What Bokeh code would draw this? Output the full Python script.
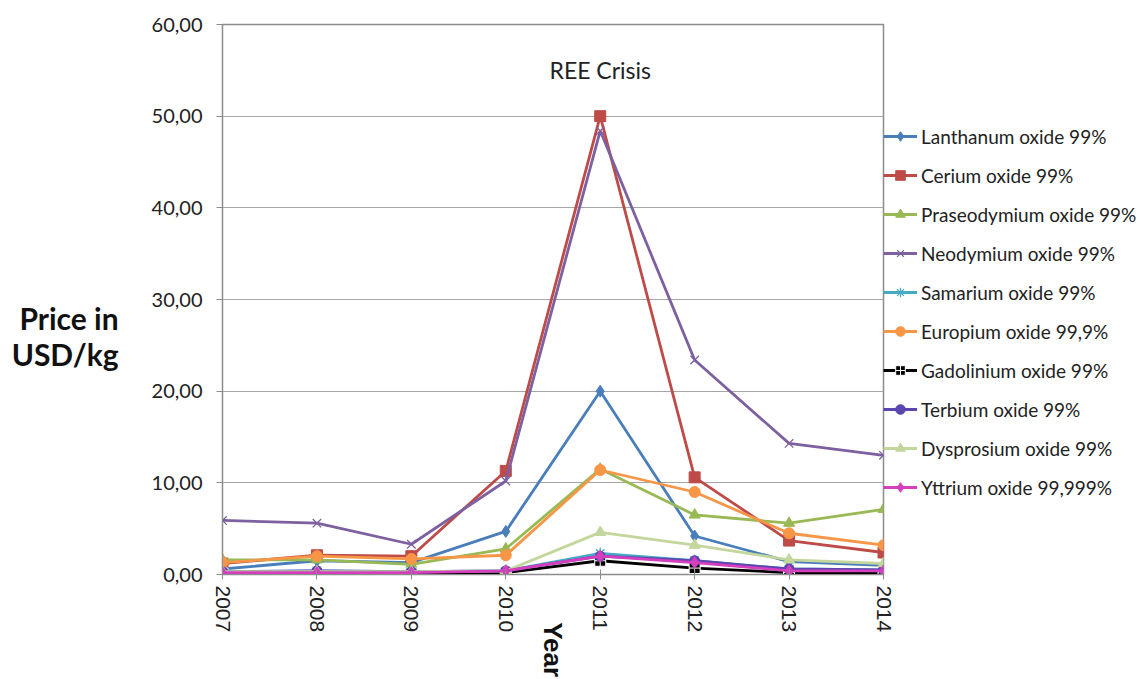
import math
from bokeh.plotting import figure
from bokeh.models import Range1d, FixedTicker, Legend, LegendItem, Label
from bokeh.embed import file_html
from bokeh.resources import INLINE

years = [2007, 2008, 2009, 2010, 2011, 2012, 2013, 2014]
year_labels = ["2007", "2008", "2009", "2010", "2011", "2012", "2013", "2014"]
y_ticks = [0, 10, 20, 30, 40, 50, 60]
y_tick_labels = ["0,00", "10,00", "20,00", "30,00", "40,00", "50,00", "60,00"]

names = [
    "Lanthanum oxide 99%", "Cerium oxide 99%", "Praseodymium oxide 99%",
    "Neodymium oxide 99%", "Samarium oxide 99%", "Europium oxide 99,9%",
    "Gadolinium oxide 99%", "Terbium oxide 99%", "Dysprosium oxide 99%",
    "Yttrium oxide 99,999%",
]
lanthanum = [0.6, 1.5, 1.3, 4.7, 20.0, 4.2, 1.4, 1.0]
cerium = [1.2, 2.1, 2.0, 11.3, 50.0, 10.6, 3.7, 2.4]
praseodymium = [1.6, 1.6, 1.1, 2.8, 11.5, 6.5, 5.6, 7.1]
neodymium = [5.9, 5.6, 3.3, 10.2, 48.4, 23.4, 14.3, 13.0]
samarium = [0.3, 0.4, 0.3, 0.4, 2.3, 1.5, 0.6, 0.5]
europium = [1.3, 2.0, 1.7, 2.1, 11.4, 9.0, 4.5, 3.2]
gadolinium = [0.1, 0.1, 0.1, 0.2, 1.5, 0.7, 0.2, 0.2]
terbium = [0.3, 0.4, 0.3, 0.4, 2.0, 1.5, 0.6, 0.5]
dysprosium = [0.3, 0.3, 0.3, 0.4, 4.6, 3.2, 1.6, 1.2]
yttrium = [0.2, 0.2, 0.2, 0.4, 2.0, 1.3, 0.4, 0.4]
series = [lanthanum, cerium, praseodymium, neodymium, samarium, europium,
          gadolinium, terbium, dysprosium, yttrium]

colors = ["#4A7EBB", "#BE4B48", "#98B954", "#7D60A0", "#46AAC5", "#F79646",
          "#000000", "#5B45B0", "#C3D69B", "#D43FBE"]
markers = ["diamond", "square", "triangle", "x", "asterisk", "circle",
           "square_cross", "circle", "triangle", "diamond"]
msizes = [12, 11, 11, 12, 12, 11, 11, 10, 11, 12]

p = figure(width=1147, height=679, output_backend="svg", toolbar_location=None,
           x_range=Range1d(2007, 2014), y_range=Range1d(0, 60),
           min_border_left=222, min_border_right=20, min_border_top=24,
           min_border_bottom=105, frame_width=661, frame_height=550)
p.background_fill_color = "white"
p.border_fill_color = "white"
p.outline_line_color = "#8c8c8c"
p.outline_line_width = 1.5

p.xgrid.grid_line_color = None
p.ygrid.grid_line_color = "#a6a6a6"
p.ygrid.grid_line_width = 1.2

p.yaxis.ticker = FixedTicker(ticks=y_ticks)
p.yaxis.major_label_overrides = {t: l for t, l in zip(y_ticks, y_tick_labels)}
p.yaxis.minor_tick_line_color = None
p.yaxis.major_tick_in = 0
p.yaxis.major_tick_out = 6
p.yaxis.axis_line_color = "#8c8c8c"
p.yaxis.major_tick_line_color = "#8c8c8c"
p.yaxis.major_label_text_font = "Lato"
p.yaxis.major_label_text_font_size = "20px"
p.yaxis.major_label_text_color = "#222222"
p.yaxis.major_label_standoff = 14
p.yaxis.axis_label = " \n \nPrice in\nUSD/kg"
p.yaxis.axis_label_orientation = "horizontal"
p.yaxis.axis_label_text_font = "Lato"
p.yaxis.axis_label_text_font_style = "bold"
p.yaxis.axis_label_text_font_size = "30px"
p.yaxis.axis_label_text_line_height = 1.0
p.yaxis.axis_label_text_color = "#111111"
p.yaxis.axis_label_text_align = "center"
p.yaxis.axis_label_standoff = 30

p.xaxis.ticker = FixedTicker(ticks=years)
p.xaxis.major_label_overrides = {y: l for y, l in zip(years, year_labels)}
p.xaxis.minor_tick_line_color = None
p.xaxis.major_tick_in = 5
p.xaxis.major_tick_out = 5
p.xaxis.axis_line_color = "#8c8c8c"
p.xaxis.major_tick_line_color = "#8c8c8c"
p.xaxis.major_label_orientation = -math.pi / 2
p.xaxis.major_label_text_font = "Liberation Sans"
p.xaxis.major_label_text_font_size = "21px"
p.xaxis.major_label_text_color = "#222222"
p.xaxis.major_label_standoff = 6
p.xaxis.axis_label = "Year"
p.xaxis.axis_label_orientation = -math.pi / 2
p.xaxis.axis_label_text_font = "Liberation Sans"
p.xaxis.axis_label_text_font_style = "bold"
p.xaxis.axis_label_text_font_size = "26px"
p.xaxis.axis_label_text_color = "#111111"
p.xaxis.axis_label_standoff = -13

items = []
for name, vals, c, m, s in zip(names, series, colors, markers, msizes):
    r1 = p.line(years, vals, line_color=c, line_width=2.8)
    if m == "square_cross":
        r2 = p.scatter(years, vals, marker=m, size=s, fill_color=c, line_color="white", line_width=1)
    elif m in ("x", "asterisk"):
        r2 = p.scatter(years, vals, marker=m, size=s, line_color=c, line_width=1.3)
    else:
        r2 = p.scatter(years, vals, marker=m, size=s, fill_color=c, line_color=c)
    items.append(LegendItem(label=name, renderers=[r1, r2]))

legend = Legend(items=items, location=(0, 75), orientation="vertical",
                border_line_color=None, background_fill_alpha=0,
                label_text_font="Lato", label_text_font_size="19px",
                label_text_color="#222222", glyph_width=34, glyph_height=24,
                label_height=24, spacing=15, padding=4, margin=6,
                label_standoff=4)
p.add_layout(legend, "right")

p.add_layout(Label(x=2011, y=55, text="REE Crisis", text_align="center",
                   text_baseline="middle", text_font="Lato",
                   text_font_size="23px", text_color="#222222"))

open("out.html", "w").write(file_html(p, INLINE))
